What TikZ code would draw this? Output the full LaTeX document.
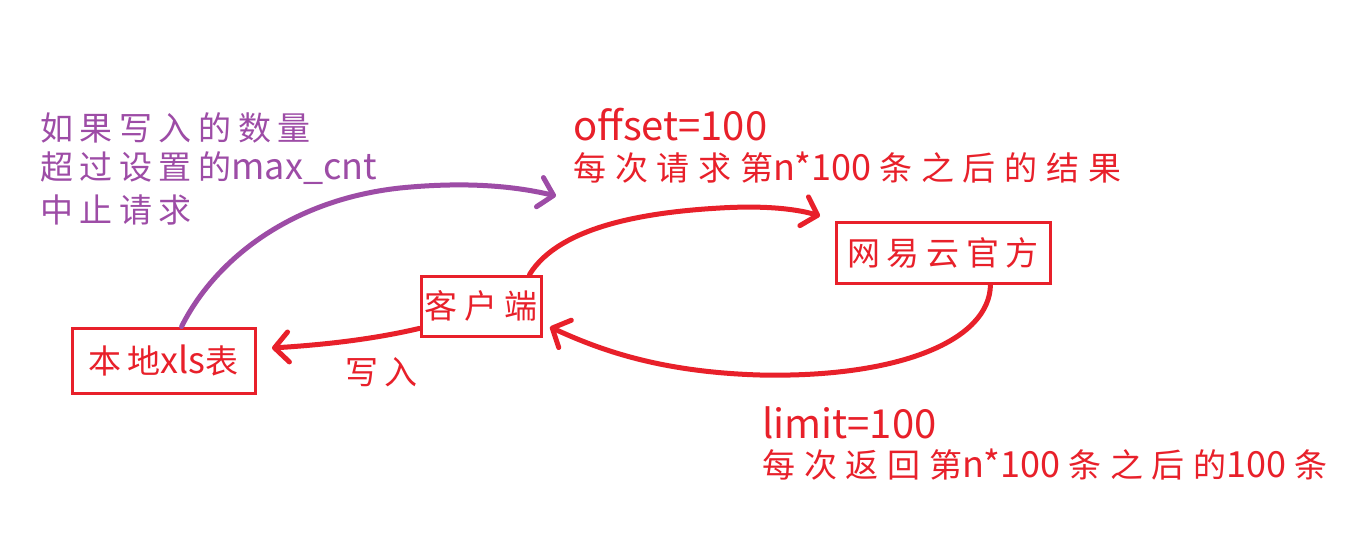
\documentclass[tikz,border=0pt]{standalone}
\usepackage{fontspec}
\newfontfamily\cjk[LetterSpace=20]{Noto Sans CJK SC}
\newfontfamily\cjkw[LetterSpace=27]{Noto Sans CJK SC}
\newfontfamily\lat{Noto Sans CJK SC}
\usetikzlibrary{arrows.meta}
\definecolor{myred}{HTML}{E8202A}
\definecolor{mypurple}{HTML}{9D4CA6}
\newcommand\zh[1]{{\cjk\fontsize{33}{38}\selectfont #1}}
\newcommand\zw[1]{{\cjkw\fontsize{33}{38}\selectfont #1}}
\newcommand\la[1]{{\lat\fontsize{40}{44}\selectfont #1}}
\newcommand\lb[1]{{\lat\fontsize{36}{40}\selectfont #1}}
\tikzset{
  box/.style={draw=myred, line width=3pt, text=myred, inner sep=0pt},
  lbl/.style={anchor=west, inner sep=0pt},
  redarrow/.style={draw=myred, line width=5pt, line cap=round,
    -{Straight Barb[length=14pt,width=30pt,line width=5pt,round]}},
  purplearrow/.style={draw=mypurple, line width=5pt, line cap=round,
    -{Straight Barb[length=14pt,width=30pt,line width=5pt,round]}}
}
\begin{document}
\begin{tikzpicture}[x=1pt,y=-1pt]
\useasboundingbox[fill=white] (0,0) rectangle (1354,559);
% boxes
\node[box, minimum width=214pt, minimum height=61pt] (wy) at (943,252.5) {\zh{网易云官方}};
\node[box, minimum width=120pt, minimum height=60pt] (cli) at (481,306) {\zh{客户端}};
\node[box, minimum width=183pt, minimum height=65pt] (loc) at (163.5,360.5) {\zh{本地}\lb{xls}\zh{表}};
% purple text
\node[lbl, text=mypurple] (p1) at (40,128) {\zh{如果写入的数量}};
\node[lbl, text=mypurple] (p2) at (40,168) {\zh{超过设置的}\lb{max\_cnt}};
\node[lbl, text=mypurple] (p3) at (40,210) {\zh{中止请求}};
% red text top
\node[lbl, text=myred] (o1) at (573,125) {\la{offset=100}};
\node[lbl, text=myred] (o2) at (573,168) {\zw{每次请求第}\lb{n*100}\hspace{8pt}\zw{条之后的结果}};
% red text bottom
\node[lbl, text=myred] (l1) at (762,423) {\la{limit=100}};
\node[lbl, text=myred] (l2) at (762,465) {\zw{每次返回第}\lb{n*100}\hspace{8pt}\zw{条之后的}\lb{100}\hspace{8pt}\zw{条}};
% write label
\node[lbl, text=myred] (w) at (345,372) {\zh{写入}};
% coordinates for free ends
\coordinate (pe) at (556,196);
\coordinate (te) at (820,216);
\coordinate (be) at (550,327);
\coordinate (le) at (272,348);
% arrows
\draw[purplearrow] (loc.62) .. controls (215,260) and (290,200) .. (400,188) .. controls (460,182) and (510,185) .. (pe);
\draw[redarrow] (cli.33) .. controls (560,225) and (650,212) .. (720,208) .. controls (770,205) and (800,210) .. (te);
\draw[redarrow] (wy.-34) .. controls (990,340) and (900,378) .. (760,375) .. controls (660,372) and (600,350) .. (be);
\draw[redarrow] (cli.200) .. controls (370,340) and (320,345) .. (le);
\end{tikzpicture}
\end{document}
